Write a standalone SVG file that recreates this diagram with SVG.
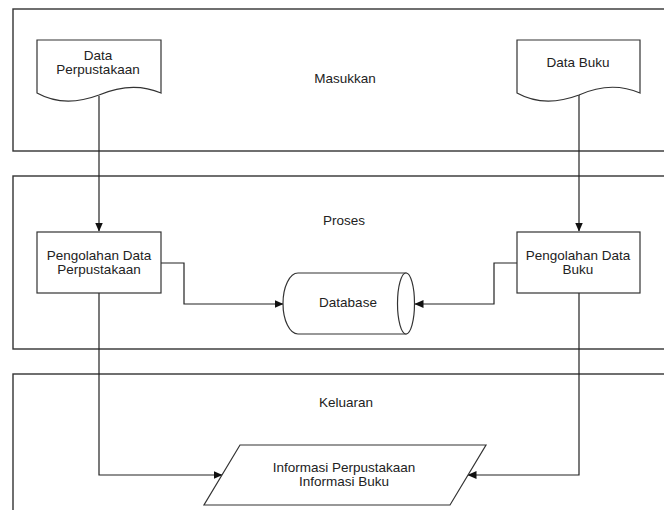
<svg xmlns="http://www.w3.org/2000/svg" width="664" height="510" viewBox="0 0 664 510">
<defs>
<marker id="arr" markerWidth="9" markerHeight="8" refX="8.5" refY="4" orient="auto" markerUnits="userSpaceOnUse">
<path d="M0,0 L9,4 L0,8 Z" fill="#111"/>
</marker>
<style>
.lane{fill:#fff;stroke:#333;stroke-width:1.4}
.shape{fill:#fff;stroke:#333;stroke-width:1.2}
.conn{fill:none;stroke:#222;stroke-width:1.2}
text{font-family:"Liberation Sans",Arial,sans-serif;font-size:13.5px;fill:#222;text-anchor:middle}
</style>
</defs>
<rect width="664" height="510" fill="#fff"/>
<g id="lane-masukkan">
<rect class="lane" x="13" y="9" width="700" height="142"/>
<text x="345" y="83">Masukkan</text>
</g>
<g id="lane-proses">
<rect class="lane" x="13" y="176" width="700" height="173"/>
<text x="344" y="225">Proses</text>
</g>
<g id="lane-keluaran">
<rect class="lane" x="13" y="374" width="700" height="200"/>
<text x="346" y="407">Keluaran</text>
</g>
<g id="connectors">
<path class="conn" d="M99,96 V231" marker-end="url(#arr)"/>
<path class="conn" d="M579,86 V231" marker-end="url(#arr)"/>
<path class="conn" d="M161,263 H184 V304 H283" marker-end="url(#arr)"/>
<path class="conn" d="M517,263 H494 V304 H415" marker-end="url(#arr)"/>
<path class="conn" d="M99,293 V475 H222" marker-end="url(#arr)"/>
<path class="conn" d="M579,293 V475 H468" marker-end="url(#arr)"/>
</g>
<g id="data-perpustakaan">
<path class="shape" d="M37,40 H161 V93 C140,84 120,86 99,95 C75,104 55,103 37,93 Z"/>
<text x="98" y="60">Data</text>
<text x="98" y="74">Perpustakaan</text>
</g>
<g id="data-buku">
<path class="shape" d="M517,40 H640 V93 C619,84 599,86 579,95 C555,104 535,103 517,93 Z"/>
<text x="578" y="67">Data Buku</text>
</g>
<g id="pengolahan-perpustakaan">
<rect class="shape" x="37" y="232" width="124" height="61"/>
<text x="99" y="260">Pengolahan Data</text>
<text x="99" y="274">Perpustakaan</text>
</g>
<g id="pengolahan-buku">
<rect class="shape" x="517" y="232" width="123" height="61"/>
<text x="578" y="260">Pengolahan Data</text>
<text x="578" y="274">Buku</text>
</g>
<g id="database">
<path class="shape" d="M298,273 H406 V334 H298 A15,30.5 0 0 1 298,273 Z"/>
<ellipse class="shape" cx="406" cy="303.5" rx="8.5" ry="30.5"/>
<text x="348" y="307">Database</text>
</g>
<g id="informasi">
<path class="shape" d="M240,445 H486 L450,505 H204 Z"/>
<text x="344" y="472">Informasi Perpustakaan</text>
<text x="344" y="486">Informasi Buku</text>
</g>
</svg>
